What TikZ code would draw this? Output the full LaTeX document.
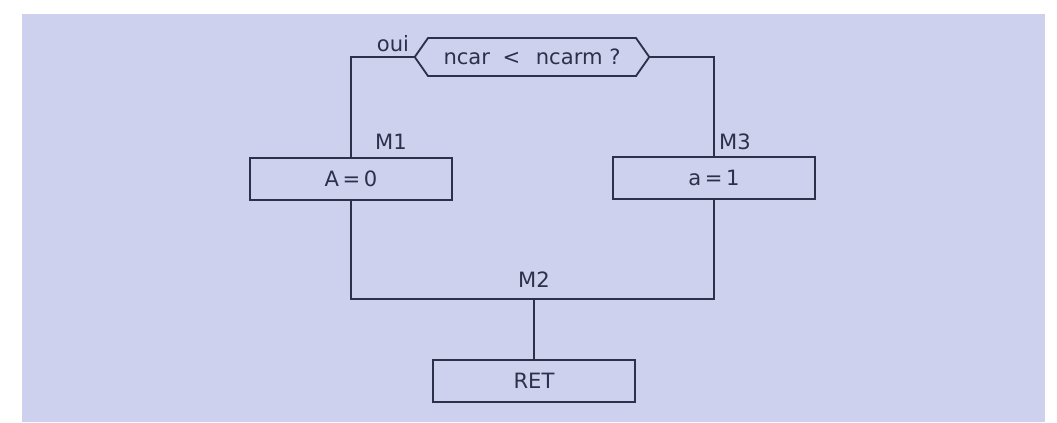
\documentclass[tikz,border=0pt]{standalone}
\usepackage{fontspec}
\setmainfont{DejaVu Sans}
\usepackage{tikz}
\usetikzlibrary{shapes.symbols}
\usepackage{xcolor}
\definecolor{bgcol}{RGB}{206,209,238}
\definecolor{inkcol}{RGB}{45,48,72}

\begin{document}
\begin{tikzpicture}[x=0.025cm, y=-0.025cm,
  every node/.style={font=\fontsize{15}{18}\selectfont, text=inkcol},
  wire/.style={draw=inkcol, line width=1.3pt},
  instr/.style={rectangle, draw=inkcol, line width=1.3pt, minimum width=5.05cm, minimum height=1.03cm, inner sep=0pt},
  test/.style={signal, signal to=west and east, signal pointer angle=110, draw=inkcol, line width=1.3pt, minimum height=0.95cm, inner xsep=11pt, inner ysep=0pt}]

% Frame
\useasboundingbox (0,0) rectangle (1057,422);
\fill[bgcol] (22,14) rectangle (1045,422);

% Test
\node[test] at (532,57) (cond) {ncar\hspace{9pt}<\hspace{11pt}ncarm ?};

% Instructions
\node[instr] at (351,179) (A0) {A\,=\,0};
\node[instr] at (714,178) (a1) {a\,=\,1};
\node[instr] at (534,381) (ret) {RET};

% Junction
\coordinate (m2) at (534,299);

% Labels
\node at (393,44) (oui) {oui};
\node at (391,142) (M1) {M1};
\node at (735,142) (M3) {M3};
\node at (534,280) (M2) {M2};

% Connections: test to branches
\draw[wire] (cond.west) -| (A0.north);
\draw[wire] (cond.east) -| (a1.north);

% Connections: branches to junction
\draw[wire] (A0.south) |- (m2) -| (a1.south);
\draw[wire] (m2) -- (ret.north);
\end{tikzpicture}
\end{document}
